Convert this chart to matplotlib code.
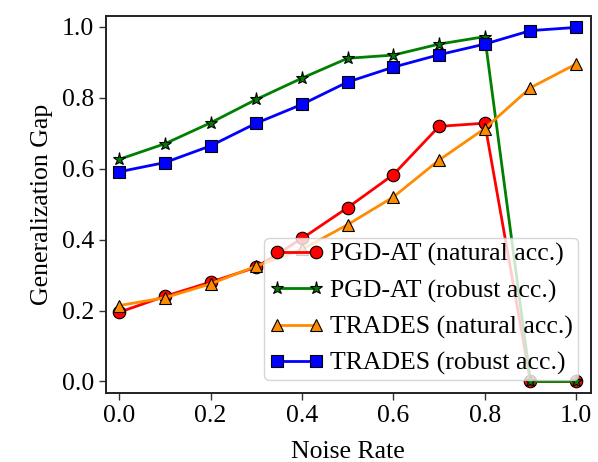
import matplotlib
matplotlib.use('Agg')
import matplotlib.pyplot as plt

# Data
noise_rate = [0.0, 0.1, 0.2, 0.3, 0.4, 0.5, 0.6, 0.7, 0.8, 0.9, 1.0]
pgd_natural = [0.195, 0.240, 0.280, 0.322, 0.403, 0.490, 0.583, 0.719, 0.728, 0.0, 0.0]
pgd_robust = [0.626, 0.670, 0.729, 0.795, 0.855, 0.911, 0.920, 0.951, 0.972, 0.0, 0.0]
trades_natural = [0.214, 0.236, 0.275, 0.325, 0.372, 0.442, 0.520, 0.624, 0.713, 0.828, 0.895]
trades_robust = [0.591, 0.617, 0.664, 0.728, 0.781, 0.844, 0.886, 0.921, 0.951, 0.989, 0.998]

plt.rcParams['font.family'] = ['Liberation Serif', 'DejaVu Serif']

fig = plt.figure(figsize=(5.98, 4.62), dpi=100)
ax = fig.add_axes([0.177, 0.149, 0.811, 0.817])

lw = 2.0
style = dict(markersize=9, markeredgecolor='black', markeredgewidth=0.8, linewidth=lw)
ax.plot(noise_rate, pgd_natural, color='red', marker='o',
        label='PGD-AT (natural acc.)', **style)
ax.plot(noise_rate, pgd_robust, color='green', marker='*',
        label='PGD-AT (robust acc.)', **dict(style, markersize=9.5))
ax.plot(noise_rate, trades_natural, color='darkorange', marker='^',
        label='TRADES (natural acc.)', **style)
ax.plot(noise_rate, trades_robust, color='blue', marker='s',
        label='TRADES (robust acc.)', **style)

ax.set_xlim(-0.029, 1.032)
ax.set_ylim(-0.033, 1.031)
ax.set_xticks([0.0, 0.2, 0.4, 0.6, 0.8, 1.0])
ax.set_yticks([0.0, 0.2, 0.4, 0.6, 0.8, 1.0])
ax.tick_params(direction='out', length=5, width=1.0, labelsize=18.5, color='#333333')
for spine in ax.spines.values():
    spine.set_linewidth(1.4)
    spine.set_color('#222222')

ax.set_xlabel('Noise Rate', fontsize=18.5, labelpad=10)
ax.set_ylabel('Generalization Gap', fontsize=18.5, labelpad=6)

ax.legend(loc='lower right', fontsize=18.5, numpoints=2, framealpha=0.8,
          handlelength=2.1, handletextpad=0.25, borderpad=0.2, labelspacing=0.5,
          borderaxespad=0.5)

fig.savefig('out.png', dpi=100)
plt.close(fig)
